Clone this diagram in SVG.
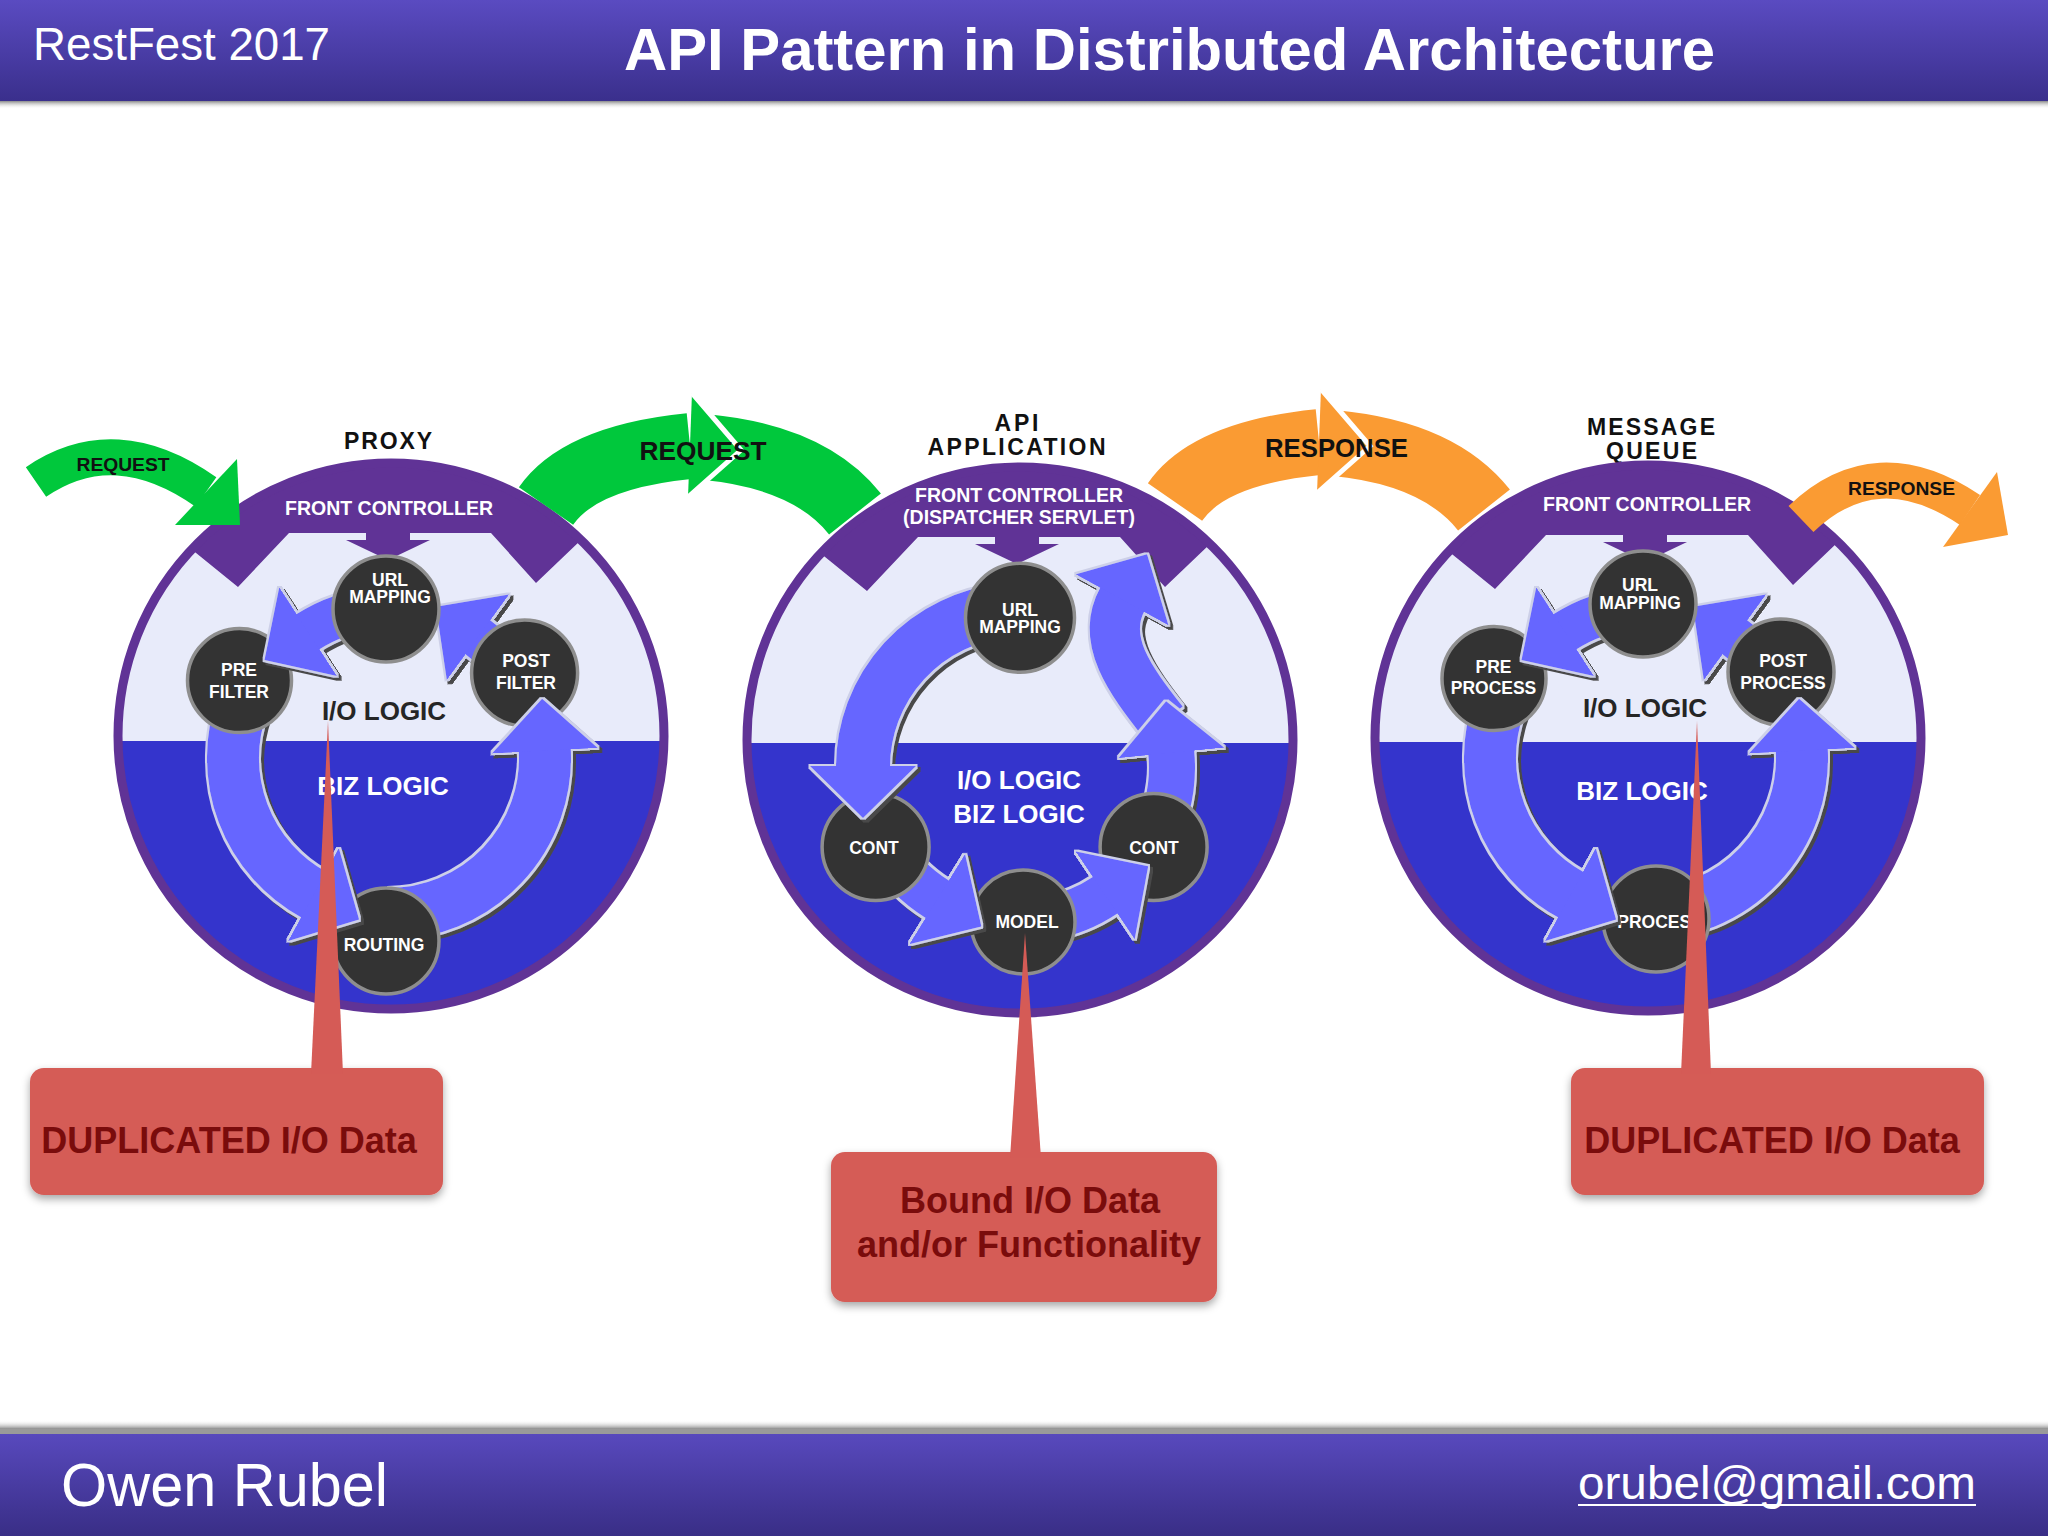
<svg xmlns="http://www.w3.org/2000/svg" width="2048" height="1536" viewBox="0 0 2048 1536">
<defs>
  <linearGradient id="gHdr" x1="0" y1="0" x2="0" y2="1"><stop offset="0" stop-color="#5a4bc1"/><stop offset="1" stop-color="#3a2f8c"/></linearGradient>
  <linearGradient id="gFtr" x1="0" y1="0" x2="0" y2="1"><stop offset="0" stop-color="#5849bd"/><stop offset="1" stop-color="#392e86"/></linearGradient>
  <linearGradient id="gShd" x1="0" y1="0" x2="0" y2="1"><stop offset="0" stop-color="#8a8a8a"/><stop offset="1" stop-color="#ffffff" stop-opacity="0"/></linearGradient>
  <linearGradient id="gShdUp" x1="0" y1="1" x2="0" y2="0"><stop offset="0" stop-color="#8a8a8a"/><stop offset="1" stop-color="#ffffff" stop-opacity="0"/></linearGradient>
  <clipPath id="clip1"><circle cx="391" cy="736" r="273"/></clipPath>
  <clipPath id="clip2"><circle cx="1020" cy="740" r="273"/></clipPath>
  <clipPath id="clip3"><circle cx="1648" cy="738" r="273"/></clipPath>
  <marker id="ah" markerUnits="userSpaceOnUse" viewBox="0 0 52 106" markerWidth="52" markerHeight="106" refX="1" refY="53" orient="auto">
    <path d="M0,0 L52,53 L0,106 z" fill="#6666ff"/>
  </marker>
  <filter id="afx" filterUnits="userSpaceOnUse" x="-1300" y="0" width="3400" height="1536">
    <feMorphology in="SourceAlpha" operator="dilate" radius="2" result="dil"/>
    <feFlood flood-color="#cdd0e8" result="lc"/>
    <feComposite in="lc" in2="dil" operator="in" result="outline"/>
    <feOffset in="dil" dx="3" dy="3" result="off"/>
    <feFlood flood-color="#4a4a4a" result="dc"/>
    <feComposite in="dc" in2="off" operator="in" result="shadow"/>
    <feMerge><feMergeNode in="shadow"/><feMergeNode in="outline"/><feMergeNode in="SourceGraphic"/></feMerge>
  </filter>
  <filter id="bsh" x="-10%" y="-20%" width="120%" height="150%">
    <feDropShadow dx="0" dy="4" stdDeviation="4" flood-color="#000" flood-opacity="0.35"/>
  </filter>
</defs>
<style>
  .t{font-family:"Liberation Sans",Arial,Helvetica,sans-serif;font-weight:bold;text-anchor:middle}
  .nd{fill:#333333;stroke:#8e8e8e;stroke-width:3.5}
  .nt{font-size:17.5px;fill:#ffffff}
  .fc{font-size:19.5px;fill:#ffffff}
  .ttl{font-size:23px;fill:#111111}
  .lg{font-size:26px}
  .arr{fill:none;stroke:#6666ff;stroke-linecap:butt;marker-end:url(#ah);filter:url(#afx)}
  .cap{fill:#603396}
  .lt{fill:#e8ebfa}
  .dk{fill:#3434cc}
  .ring{fill:none;stroke:#603396;stroke-width:9}
  .co{fill:#d55b56}
  .cot{font-size:36px;fill:#7a0c0c}
  .grn{fill:none;stroke:#00c83c}
  .org{fill:none;stroke:#fa9b33}
  .lbl{fill:#111111}
</style>

<rect x="0" y="0" width="2048" height="1536" fill="#ffffff"/>

<!-- Header -->
<g id="header">
  <rect x="0" y="0" width="2048" height="101" fill="url(#gHdr)"/>
  <rect x="0" y="101" width="2048" height="8" fill="url(#gShd)"/>
  <text x="33" y="60" font-family="Liberation Sans, Arial, sans-serif" font-size="46" fill="#ffffff" textLength="297" lengthAdjust="spacingAndGlyphs">RestFest 2017</text>
  <text class="t" x="1169.5" y="70" font-size="60" fill="#ffffff" textLength="1091" lengthAdjust="spacingAndGlyphs">API Pattern in Distributed Architecture</text>
</g>

<!-- Circle 1: PROXY -->
<g id="proxy">
  <text class="t ttl" x="388" y="449" textLength="88" lengthAdjust="spacing">PROXY</text>
  <g clip-path="url(#clip1)">
    <rect class="lt" x="100" y="450" width="600" height="300"/>
    <rect class="dk" x="100" y="741" width="600" height="300"/>
    <polygon class="cap" points="91,436 148,514 238,587 289,533 366,533 366,540 346,540 388,560 430,540 410,540 410,533 491,533 536,583 626,497 691,436"/>
  </g>
  <circle class="ring" cx="391" cy="736" r="273"/>
  <text class="t fc" x="389" y="515">FRONT CONTROLLER</text>
  <text class="t lg" x="384" y="720" fill="#252525">I/O LOGIC</text>
  <text class="t lg" x="383" y="795" fill="#ffffff">BIZ LOGIC</text>
  <path class="arr" stroke-width="42" d="M518.9,683 A150,150 0 0 0 477.2,636.7"/>
  <g id="proxy-post-filter"><circle class="nd" cx="524.6" cy="673" r="53"/><text class="t nt" x="526" y="667">POST</text><text class="t nt" x="526" y="689">FILTER</text></g>
  <path class="arr" stroke-width="52" d="M389,914 A156,156 0 0 0 544.8,749.8"/>
  <g id="proxy-routing"><circle class="nd" cx="386" cy="941" r="53"/><text class="t nt" x="384" y="951">ROUTING</text></g>
  <path class="arr" stroke-width="52" d="M242.4,704.6 A156,156 0 0 0 314.3,895"/>
  <g id="proxy-pre-filter"><circle class="nd" cx="239.5" cy="680.6" r="52"/><text class="t nt" x="239" y="676">PRE</text><text class="t nt" x="239" y="698">FILTER</text></g>
  <path class="arr" stroke-width="42" d="M375.9,608.6 A150,150 0 0 0 307.3,632.2"/>
  <g id="proxy-url-mapping"><circle class="nd" cx="386" cy="609" r="53"/><text class="t nt" x="390" y="586">URL</text><text class="t nt" x="390" y="602.5">MAPPING</text></g>
</g>

<!-- Circle 2: API APPLICATION -->
<g id="api-application">
  <text class="t ttl" x="1016.5" y="431" textLength="44" lengthAdjust="spacing">API</text>
  <text class="t ttl" x="1016.5" y="455" textLength="178" lengthAdjust="spacing">APPLICATION</text>
  <g clip-path="url(#clip2)">
    <rect class="lt" x="730" y="450" width="600" height="300"/>
    <rect class="dk" x="730" y="743" width="600" height="300"/>
    <polygon class="cap" points="720,440 777,518 867,591 918,537 995,537 995,544 975,544 1017,564 1059,544 1039,544 1039,537 1120,537 1165,587 1255,501 1320,440"/>
  </g>
  <circle class="ring" cx="1020" cy="740" r="273"/>
  <text class="t fc" x="1019" y="502">FRONT CONTROLLER</text>
  <text class="t fc" x="1019" y="524">(DISPATCHER SERVLET)</text>
  <text class="t lg" x="1019" y="789" fill="#ffffff">I/O LOGIC</text>
  <text class="t lg" x="1019" y="823" fill="#ffffff">BIZ LOGIC</text>
  <path class="arr" stroke-width="50" d="M1163,722 C1130,680 1100,640 1122.5,599"/>
  <path class="arr" stroke-width="46" d="M1151.6,843 A152,152 0 0 0 1171.2,751.9"/>
  <g id="api-cont-right"><circle class="nd" cx="1153.6" cy="847" r="53.5"/><text class="t nt" x="1154" y="854">CONT</text></g>
  <path class="arr" stroke-width="44" d="M1046.7,918.7 A154,154 0 0 0 1105.9,894.8"/>
  <g id="api-model"><circle class="nd" cx="1023" cy="922" r="52"/><text class="t nt" x="1027" y="928">MODEL</text></g>
  <path class="arr" stroke-width="44" d="M884.9,845 A156,156 0 0 0 938,899.7"/>
  <g id="api-cont-left"><circle class="nd" cx="875.6" cy="847" r="53.5"/><text class="t nt" x="874" y="854">CONT</text></g>
  <path class="arr" stroke-width="54" d="M1006.3,610.6 A157,157 0 0 0 863,767"/>
  <g id="api-url-mapping"><circle class="nd" cx="1020" cy="617.8" r="54.5"/><text class="t nt" x="1020" y="616">URL</text><text class="t nt" x="1020" y="633">MAPPING</text></g>
</g>

<!-- Circle 3: MESSAGE QUEUE -->
<g id="message-queue">
  <text class="t ttl" x="1651" y="434.5" textLength="128" lengthAdjust="spacing">MESSAGE</text>
  <text class="t ttl" x="1651.5" y="459" textLength="91" lengthAdjust="spacing">QUEUE</text>
  <g clip-path="url(#clip3)">
    <rect class="lt" x="1358" y="450" width="600" height="300"/>
    <rect class="dk" x="1358" y="742" width="600" height="300"/>
    <polygon class="cap" points="1348,438 1405,516 1495,589 1546,535 1623,535 1623,542 1603,542 1645,562 1687,542 1667,542 1667,535 1748,535 1793,585 1883,499 1948,438"/>
  </g>
  <circle class="ring" cx="1648" cy="738" r="273"/>
  <text class="t fc" x="1647" y="511">FRONT CONTROLLER</text>
  <text class="t lg" x="1645" y="717" fill="#252525">I/O LOGIC</text>
  <text class="t lg" x="1642" y="800" fill="#ffffff">BIZ LOGIC</text>
  <path class="arr" transform="translate(1257,0)" stroke-width="42" d="M518.9,683 A150,150 0 0 0 477.2,636.7"/>
  <g id="mq-post-process"><circle class="nd" cx="1781" cy="672" r="53"/><text class="t nt" x="1783" y="667">POST</text><text class="t nt" x="1783" y="689">PROCESS</text></g>
  <path class="arr" transform="translate(1257,0)" stroke-width="52" d="M389,914 A156,156 0 0 0 544.8,749.8"/>
  <g id="mq-process"><circle class="nd" cx="1656" cy="919" r="53"/><text class="t nt" x="1660" y="928">PROCESS</text></g>
  <path class="arr" transform="translate(1257,0)" stroke-width="52" d="M242.4,704.6 A156,156 0 0 0 314.3,895"/>
  <g id="mq-pre-process"><circle class="nd" cx="1494" cy="678.6" r="52"/><text class="t nt" x="1493.5" y="672.7">PRE</text><text class="t nt" x="1493.5" y="694.3">PROCESS</text></g>
  <path class="arr" transform="translate(1257,0)" stroke-width="42" d="M375.9,608.6 A150,150 0 0 0 307.3,632.2"/>
  <g id="mq-url-mapping"><circle class="nd" cx="1643" cy="604" r="53"/><text class="t nt" x="1640" y="591">URL</text><text class="t nt" x="1640" y="608.6">MAPPING</text></g>
</g>

<!-- Connectors between stages -->
<g id="connectors">
  <path class="grn" stroke-width="36" d="M36,482 Q115,428 206,492"/>
  <polygon points="237,459 240,525 175,525" fill="#00c83c"/>
  <text class="t lbl" x="123" y="471" font-size="19" textLength="93" lengthAdjust="spacingAndGlyphs">REQUEST</text>

  <path class="grn" stroke-width="66" d="M705,447 Q810,457 855,514"/>
  <path class="grn" stroke-width="66" d="M546,506 Q580,457 690,446"/>
  <polygon points="692,393 741,450 688,497" fill="#00c83c"/>
  <polyline points="692,393 741,450 688,497" fill="none" stroke="#ffffff" stroke-width="5"/>
  <text class="t lbl" x="703" y="460" font-size="25" textLength="127" lengthAdjust="spacingAndGlyphs">REQUEST</text>

  <g transform="translate(629,-4)">
    <path class="org" stroke-width="66" d="M705,447 Q810,457 855,514"/>
    <path class="org" stroke-width="66" d="M546,506 Q580,457 690,446"/>
    <polygon points="692,393 741,450 688,497" fill="#fa9b33"/>
    <polyline points="692,393 741,450 688,497" fill="none" stroke="#ffffff" stroke-width="5"/>
  </g>
  <text class="t lbl" x="1336.5" y="457" font-size="25" textLength="143" lengthAdjust="spacingAndGlyphs">RESPONSE</text>

  <path class="org" stroke-width="36" d="M1801,519 Q1876,447 1970,510"/>
  <polygon points="1997,472 2008,535 1943,547" fill="#fa9b33"/>
  <text class="t lbl" x="1901.5" y="495" font-size="19" textLength="107" lengthAdjust="spacingAndGlyphs">RESPONSE</text>
</g>

<!-- Callouts -->
<g id="callout-left">
  <rect class="co" x="30" y="1068" width="413" height="127" rx="14" filter="url(#bsh)"/>
  <polygon class="co" points="311,1074 328,721 343,1074"/>
  <text class="t cot" x="229" y="1153">DUPLICATED I/O Data</text>
</g>
<g id="callout-middle">
  <rect class="co" x="831" y="1152" width="386" height="150" rx="14" filter="url(#bsh)"/>
  <polygon class="co" points="1010,1158 1025,933 1041,1158"/>
  <text class="t cot" x="1030" y="1213">Bound I/O Data</text>
  <text class="t cot" x="1029" y="1257">and/or Functionality</text>
</g>
<g id="callout-right">
  <rect class="co" x="1571" y="1068" width="413" height="127" rx="14" filter="url(#bsh)"/>
  <polygon class="co" points="1681,1074 1697,721 1711,1074"/>
  <text class="t cot" x="1772" y="1153">DUPLICATED I/O Data</text>
</g>

<!-- Footer -->
<g id="footer">
  <rect x="0" y="1420" width="2048" height="9" fill="url(#gShdUp)"/>
  <rect x="0" y="1429" width="2048" height="6" fill="#9a9a9a"/>
  <rect x="0" y="1434" width="2048" height="102" fill="url(#gFtr)"/>
  <text x="61" y="1506" font-family="Liberation Sans, Arial, sans-serif" font-size="62" fill="#ffffff" textLength="327" lengthAdjust="spacingAndGlyphs">Owen Rubel</text>
  <text x="1578" y="1499" font-family="Liberation Sans, Arial, sans-serif" font-size="46" fill="#ffffff" textLength="398" lengthAdjust="spacingAndGlyphs">orubel@gmail.com</text>
  <line x1="1578" y1="1505" x2="1976" y2="1505" stroke="#ffffff" stroke-width="2"/>
</g>
</svg>
